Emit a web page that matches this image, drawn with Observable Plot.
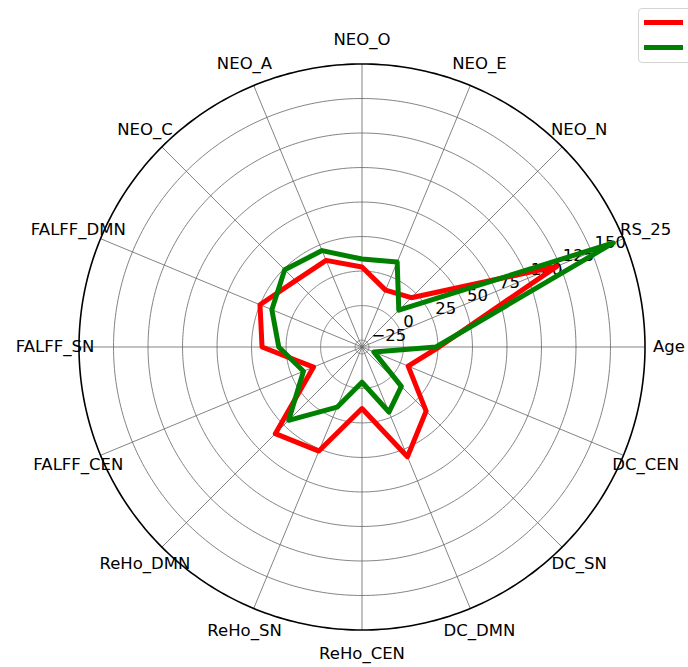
<!DOCTYPE html>
<html>
<head>
<meta charset="utf-8">
<script src="https://cdn.jsdelivr.net/npm/d3@7"></script>
<script src="https://cdn.jsdelivr.net/npm/@observablehq/plot@0.6"></script>
<style>
  html, body { margin: 0; padding: 0; background: #fff; overflow: hidden; }
  #wrap { position: relative; width: 688px; height: 667px; }
  #legend {
    position: absolute; left: 638px; top: 8px; width: 90px; height: 55px;
    border: 1.5px solid #d4d4d4; border-radius: 4px; background: rgba(255,255,255,0.8);
    box-sizing: border-box;
  }
  #legend .sw { position: absolute; left: 5px; width: 39px; height: 5px; }
</style>
</head>
<body>
<div id="wrap">
  <div id="chart"></div>
  <div id="legend">
    <div class="sw" style="top:11px;background:#ff0000"></div>
    <div class="sw" style="top:36px;background:#008000"></div>
  </div>
</div>
<script>
// ---- data ----
const axesNames = ["Age","RS_25","NEO_N","NEO_E","NEO_O","NEO_A","NEO_C","FALFF_DMN","FALFF_SN","FALFF_CEN","ReHo_DMN","ReHo_SN","ReHo_CEN","DC_DMN","DC_SN","DC_CEN"];
const redValues   = [25.8, 122.7, 20.5, 14.6, 28, 37.9, 38, 50, 42.4, 8, 58.8, 51.6, 14.6, 56, 35.7, 6.2];
const greenValues = [23.6, 167, 7.7, 36.6, 33.7, 45.6, 49.2, 40.7, 30.3, 15.9, 45.1, 17.2, -4.5, 21, 10.3, -20.7];
const radialTicks = [-25, 0, 25, 50, 75, 100, 125, 150];
const rMin = -30, rMax = 175;

// ---- geometry helpers ----
const N = axesNames.length;
const ang = i => i * 2 * Math.PI / N;
const R = v => v - rMin;           // radial distance in scale units
const span = rMax - rMin;          // 205

const series = [];
[["A", redValues], ["B", greenValues]].forEach(([name, vals]) => {
  vals.forEach((v, i) => series.push({series: name, i, value: v}));
});

const circles = [];
radialTicks.forEach(t => {
  for (let k = 0; k <= 360; k++) circles.push({t, a: k * Math.PI / 180});
});
const outer = d3.range(0, 361).map(k => ({a: k * Math.PI / 180}));
const spokes = axesNames.map((name, i) => ({name, i}));
const labelAngle = 22.5 * Math.PI / 180;
const fmt = t => (t < 0 ? "\u2212" + Math.abs(t) : String(t));

const chart = Plot.plot({
  width: 688,
  height: 667,
  marginLeft: 78.5,
  marginRight: 43.5,
  marginTop: 63.5,
  marginBottom: 37.5,
  x: {domain: [-span, span], axis: null},
  y: {domain: [-span, span], axis: null},
  style: {fontFamily: "DejaVu Sans", fontSize: "16.5px", background: "white"},
  marks: [
    // grid circles
    Plot.line(circles, {
      x: d => R(d.t) * Math.cos(d.a), y: d => R(d.t) * Math.sin(d.a), z: "t",
      stroke: "#6e6e6e", strokeWidth: 0.85
    }),
    // spokes
    Plot.link(spokes, {
      x1: 0, y1: 0,
      x2: d => span * Math.cos(ang(d.i)), y2: d => span * Math.sin(ang(d.i)),
      stroke: "#6e6e6e", strokeWidth: 0.85
    }),
    // outer spine
    Plot.line(outer, {
      x: d => span * Math.cos(d.a), y: d => span * Math.sin(d.a),
      stroke: "black", strokeWidth: 1.6
    }),
    // radial tick labels (beneath the data lines)
    Plot.text(radialTicks, {
      x: t => R(t) * Math.cos(labelAngle), y: t => R(t) * Math.sin(labelAngle),
      text: fmt, textAnchor: "start", dx: 3, dy: -9,
      fill: "black", fontSize: 16.5
    }),
    // data polygons
    Plot.line(series, {
      x: d => R(d.value) * Math.cos(ang(d.i)), y: d => R(d.value) * Math.sin(ang(d.i)),
      z: "series", curve: "linear-closed",
      stroke: d => d.series === "A" ? "#ff0000" : "#008000",
      strokeWidth: 5, strokeLinejoin: "round"
    }),
    // axis labels
    Plot.text(spokes, {
      x: d => 222.4 * Math.cos(ang(d.i)), y: d => 222.4 * Math.sin(ang(d.i)),
      text: "name", textAnchor: "middle", fill: "black", fontSize: 16.5
    })
  ]
});
document.getElementById("chart").appendChild(chart);
</script>
</body>
</html>
